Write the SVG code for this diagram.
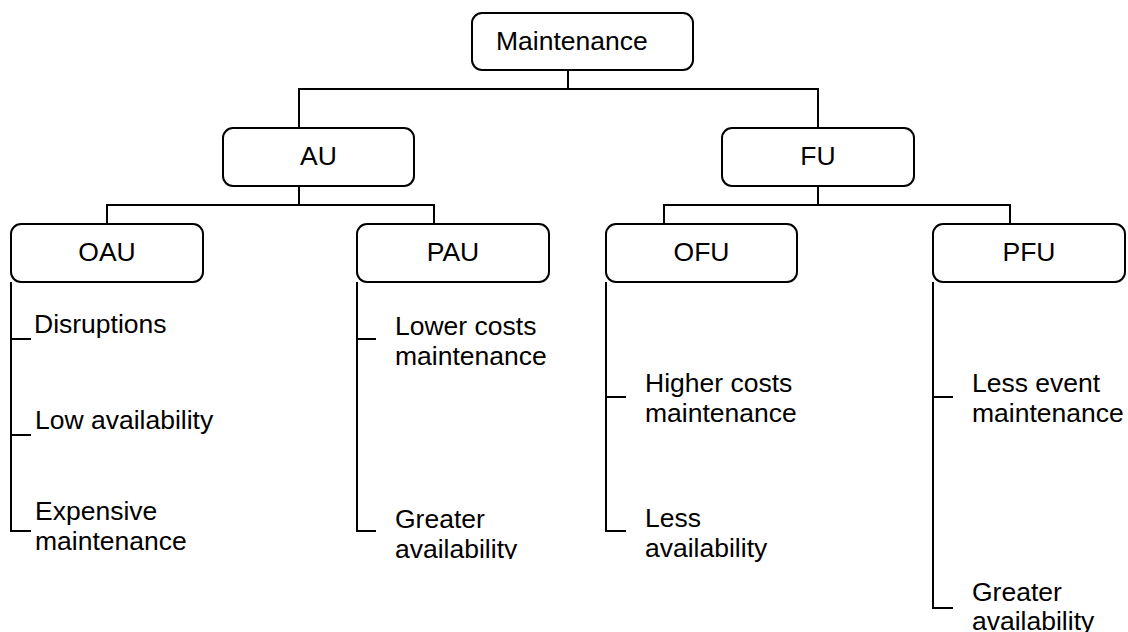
<svg xmlns="http://www.w3.org/2000/svg" width="1128" height="632" viewBox="0 0 1128 632">
<style>
.box{fill:#fff;stroke:#000;stroke-width:2}
.ln{fill:none;stroke:#000;stroke-width:2}
text{font-family:"Liberation Sans",Arial,sans-serif;font-size:26.5px;fill:#000}
.c{text-anchor:middle}
</style>
<defs>
<clipPath id="clipPAU"><rect x="380" y="500" width="200" height="59"/></clipPath>
</defs>
<rect width="1128" height="632" fill="#fff"/>
<g id="connectors" class="ln">
<path class="ln" d="M568,70 V89 M299,128 V89 H818 V128"/>
<path class="ln" d="M299,186 V205 M107,224 V205 H434 V224"/>
<path class="ln" d="M818,186 V205 M664,224 V205 H1010 V224"/>
<path class="ln" d="M11,282 V531 H31 M11,339 H31 M11,435 H31"/>
<path class="ln" d="M357,282 V531 H376 M357,339 H376"/>
<path class="ln" d="M606,282 V531 H626 M606,397 H626"/>
<path class="ln" d="M933,282 V608 H953 M933,397 H953"/>
</g>
<g id="maintenance">
<rect class="box" x="472" y="13" width="221" height="57" rx="10"/>
<text x="496" y="50">Maintenance</text>
</g>
<g id="au">
<rect class="box" x="223" y="128" width="191" height="58" rx="10"/>
<text class="c" x="318.5" y="165">AU</text>
</g>
<g id="fu">
<rect class="box" x="722" y="128" width="192" height="58" rx="10"/>
<text class="c" x="818" y="165">FU</text>
</g>
<g id="oau">
<rect class="box" x="11" y="224" width="192" height="58" rx="10"/>
<text class="c" x="107" y="261">OAU</text>
</g>
<g id="pau">
<rect class="box" x="357" y="224" width="192" height="58" rx="10"/>
<text class="c" x="453" y="261">PAU</text>
</g>
<g id="ofu">
<rect class="box" x="606" y="224" width="191" height="58" rx="10"/>
<text class="c" x="701.5" y="261">OFU</text>
</g>
<g id="pfu">
<rect class="box" x="933" y="224" width="192" height="58" rx="10"/>
<text class="c" x="1029" y="261">PFU</text>
</g>
<g id="oau-items">
<text x="34" y="333">Disruptions</text>
<text x="35" y="429">Low availability</text>
<text x="35" y="520">Expensive</text>
<text x="35" y="550">maintenance</text>
</g>
<g id="pau-items">
<text x="395" y="335">Lower costs</text>
<text x="395" y="365">maintenance</text>
<text x="395" y="528">Greater</text>
<text x="395" y="558" clip-path="url(#clipPAU)">availability</text>
</g>
<g id="ofu-items">
<text x="645" y="392">Higher costs</text>
<text x="645" y="422">maintenance</text>
<text x="645" y="527">Less</text>
<text x="645" y="557">availability</text>
</g>
<g id="pfu-items">
<text x="972" y="601">Greater</text>
<text x="972" y="630">availability</text>
<text x="972" y="392">Less event</text>
<text x="972" y="422">maintenance</text>
</g>
</svg>
